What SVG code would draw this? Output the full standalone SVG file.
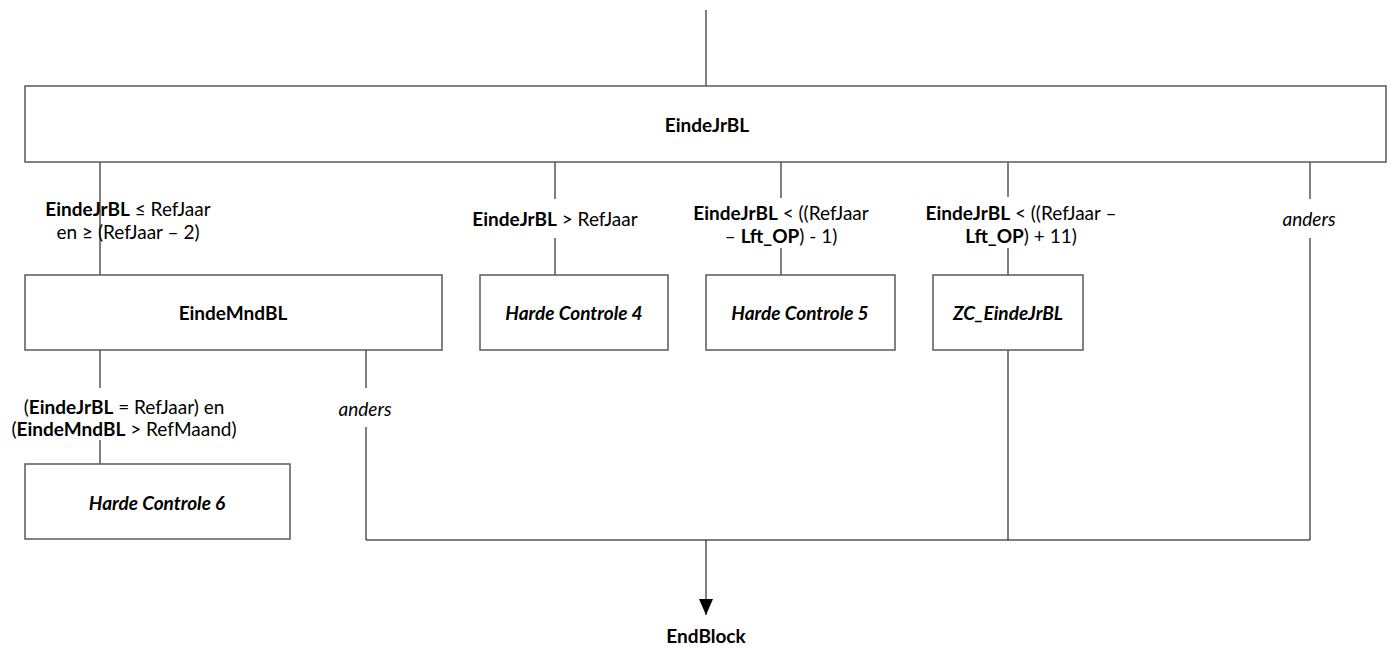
<svg xmlns="http://www.w3.org/2000/svg" width="1398" height="650" viewBox="0 0 1398 650">
<style>
text{font-family:Lato,"Open Sans","Liberation Sans",sans-serif;font-size:19px;fill:#000;text-anchor:middle;dominant-baseline:central}
.b{font-weight:bold}
.bi{font-weight:bold;font-style:italic}
.i{font-style:italic}
.box{fill:#fff;stroke:#5a5a5a;stroke-width:1.5}
.ln{fill:none;stroke:#000;stroke-width:1}
</style>
<defs>
<marker id="ah" markerWidth="14" markerHeight="16" refX="7" refY="15" orient="auto" markerUnits="userSpaceOnUse" viewBox="0 0 14 16">
<path d="M0,0 L14,0 L7,16 Z" fill="#000" transform="rotate(-90 7 8)"/>
</marker>
<marker id="ad" markerWidth="14" markerHeight="16" refX="7" refY="16" orient="0" markerUnits="userSpaceOnUse" viewBox="0 0 14 16">
<path d="M0,0 L14,0 L7,16 Z" fill="#000"/>
</marker>
</defs>
<g id="connectors">
<path class="ln" d="M706,10 V86"/>
<path class="ln" d="M100,162 V275" stroke="#5a5a5a"/>
<path class="ln" d="M555,162 V199 M555,238 V275"/>
<path class="ln" d="M781,162 V198 M781,248 V275"/>
<path class="ln" d="M1008,162 V197 M1008,248 V275"/>
<path class="ln" d="M1310,162 V199 M1310,238 V540"/>
<path class="ln" d="M100,350 V388 M100,440 V464" stroke="#5a5a5a"/>
<path class="ln" d="M366,350 V388 M366,427 V540"/>
<path class="ln" d="M1008,350 V540"/>
<path class="ln" d="M366,540 H1310" stroke="#5a5a5a" stroke-width="1.5"/>
<path class="ln" d="M706,540 V615" marker-end="url(#ad)"/>
<text x="128" y="208"><tspan class="b">EindeJrBL</tspan> ≤ RefJaar</text>
<text x="128" y="231">en ≥ (RefJaar – 2)</text>
<text x="555" y="218"><tspan class="b">EindeJrBL</tspan> &gt; RefJaar</text>
<text x="781" y="212"><tspan class="b">EindeJrBL</tspan> &lt; ((RefJaar</text>
<text x="781" y="235">– <tspan class="b">Lft_OP</tspan>) - 1)</text>
<text x="1021" y="212"><tspan class="b">EindeJrBL</tspan> &lt; ((RefJaar –</text>
<text x="1021" y="235"><tspan class="b">Lft_OP</tspan>) + 11)</text>
<text class="i" x="1309" y="218">anders</text>
<text x="124" y="406">(<tspan class="b">EindeJrBL</tspan> = RefJaar) en</text>
<text x="124" y="428">(<tspan class="b">EindeMndBL</tspan> &gt; RefMaand)</text>
<text class="i" x="365" y="408">anders</text>
</g>
<g id="n_top">
<rect class="box" x="25" y="86" width="1361" height="76"/>
<text class="b" x="707" y="124">EindeJrBL</text>
</g>
<g id="n_mnd">
<rect class="box" x="25" y="275" width="417" height="75"/>
<text class="b" x="233" y="312">EindeMndBL</text>
</g>
<g id="n_hc4">
<rect class="box" x="480" y="275" width="188" height="75"/>
<text class="bi" x="574" y="312">Harde Controle 4</text>
</g>
<g id="n_hc5">
<rect class="box" x="706" y="275" width="189" height="75"/>
<text class="bi" x="800" y="312">Harde Controle 5</text>
</g>
<g id="n_zc">
<rect class="box" x="933" y="275" width="150" height="75"/>
<text class="bi" x="1008" y="312">ZC_EindeJrBL</text>
</g>
<g id="n_hc6">
<rect class="box" x="25" y="464" width="265" height="75"/>
<text class="bi" x="157" y="502">Harde Controle 6</text>
</g>
<g id="n_end">
<text class="b" x="706" y="635">EndBlock</text>
</g>
</svg>
